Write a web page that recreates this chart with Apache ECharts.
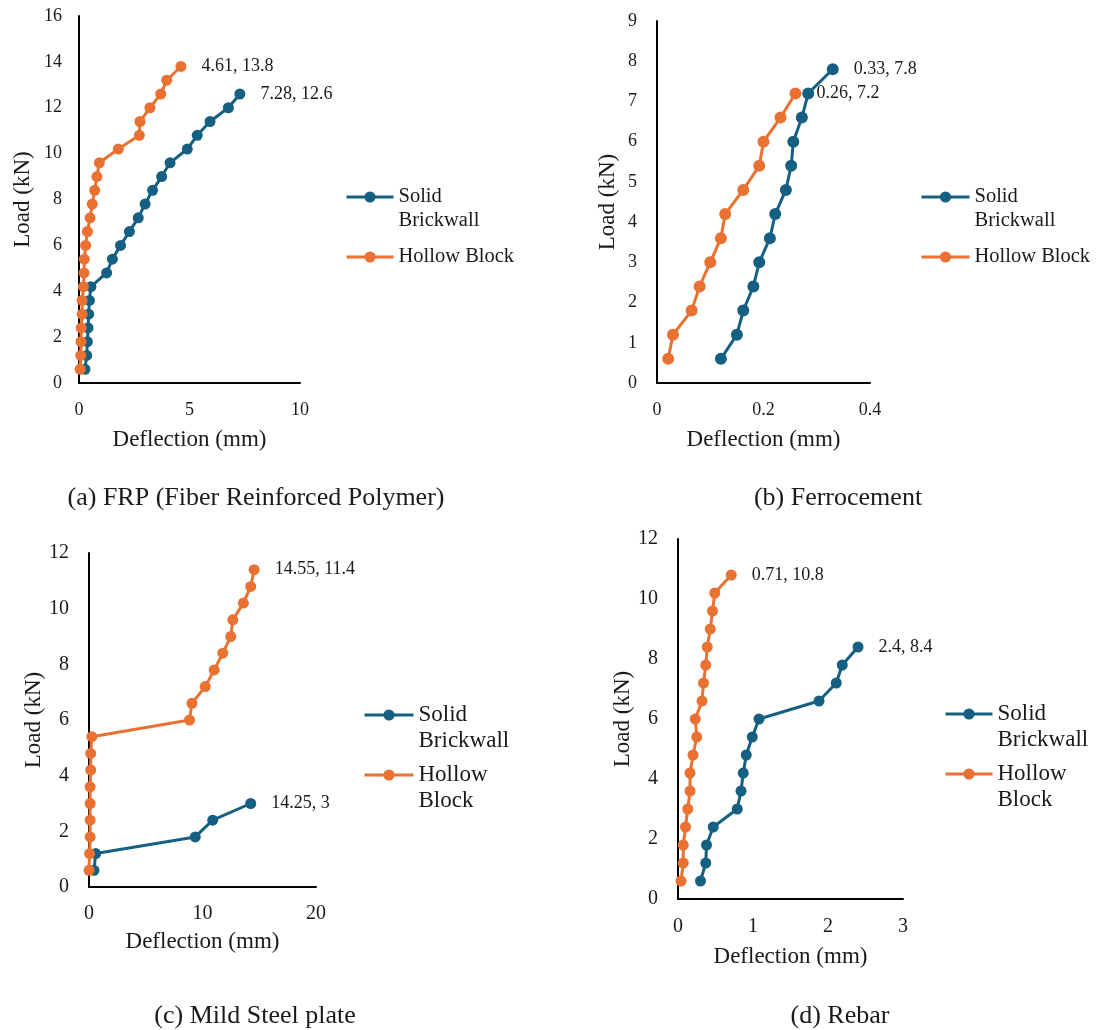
<!DOCTYPE html>
<html>
<head>
<meta charset="utf-8">
<script src="https://cdn.jsdelivr.net/npm/echarts@6/dist/echarts.min.js"></script>
<style>html,body{margin:0;padding:0;background:#fff}#c{width:1098px;height:1030px}</style>
</head>
<body>
<div id="c"></div>
<script>
// ---- Data (Deflection in mm, Load in kN) ----
const seriesNames = ['Solid Brickwall', 'Hollow Block'];
const captions = ['(a) FRP (Fiber Reinforced Polymer)', '(b) Ferrocement', '(c) Mild Steel plate', '(d) Rebar'];

// (a) FRP
const aSolidLoad = [0.6,1.2,1.8,2.4,3.0,3.6,4.2,4.8,5.4,6.0,6.6,7.2,7.8,8.4,9.0,9.6,10.2,10.8,11.4,12.0,12.6];
const aSolidDefl = [0.27,0.35,0.38,0.41,0.44,0.47,0.54,1.25,1.51,1.88,2.28,2.68,2.99,3.33,3.74,4.12,4.9,5.35,5.93,6.76,7.28];
const aHollowLoad = [0.6,1.2,1.8,2.4,3.0,3.6,4.2,4.8,5.4,6.0,6.6,7.2,7.8,8.4,9.0,9.6,10.2,10.8,11.4,12.0,12.6,13.2,13.8];
const aHollowDefl = [0.05,0.08,0.09,0.1,0.14,0.14,0.2,0.23,0.24,0.3,0.38,0.5,0.6,0.71,0.81,0.92,1.78,2.73,2.76,3.21,3.7,3.97,4.61];

// (b) Ferrocement
const bSolidLoad = [0.6,1.2,1.8,2.4,3.0,3.6,4.2,4.8,5.4,6.0,6.6,7.2,7.8];
const bSolidDefl = [0.12,0.15,0.162,0.181,0.192,0.212,0.222,0.242,0.252,0.256,0.272,0.284,0.33];
const bHollowLoad = [0.6,1.2,1.8,2.4,3.0,3.6,4.2,4.8,5.4,6.0,6.6,7.2];
const bHollowDefl = [0.021,0.03,0.065,0.08,0.1,0.12,0.128,0.162,0.192,0.2,0.232,0.26];

// (c) Mild Steel plate
const cSolidLoad = [0.6,1.2,1.8,2.4,3];
const cSolidDefl = [0.44,0.59,9.36,10.9,14.25];
const cHollowLoad = [0.6,1.2,1.8,2.4,3.0,3.6,4.2,4.8,5.4,6.0,6.6,7.2,7.8,8.4,9.0,9.6,10.2,10.8,11.4];
const cHollowDefl = [0.0,0.05,0.1,0.1,0.1,0.1,0.15,0.15,0.25,8.86,9.07,10.24,11.03,11.79,12.49,12.67,13.6,14.25,14.55];

// (d) Rebar
const dSolidLoad = [0.6,1.2,1.8,2.4,3.0,3.6,4.2,4.8,5.4,6.0,6.6,7.2,7.8,8.4];
const dSolidDefl = [0.3,0.37,0.38,0.47,0.79,0.84,0.87,0.91,0.99,1.08,1.88,2.11,2.19,2.4];
const dHollowLoad = [0.6,1.2,1.8,2.4,3.0,3.6,4.2,4.8,5.4,6.0,6.6,7.2,7.8,8.4,9.0,9.6,10.2,10.8];
const dHollowDefl = [0.04,0.07,0.07,0.1,0.13,0.16,0.16,0.2,0.25,0.23,0.32,0.34,0.37,0.39,0.43,0.46,0.49,0.71];

// Axis ranges / ticks
const xMax = [10, 0.4, 20, 3];
const xInterval = [5, 0.2, 10, 1];
const yMax = [16, 9, 12, 12];
const yInterval = [2, 1, 2, 2];

// ---- Styling ----
const FONT = 'Liberation Serif';
const TXT = '#1a1a1a';
const BLUE = '#156082';
const ORANGE = '#E97132';

const grids = [
  {left: 79, top: 16, width: 221, height: 367},
  {left: 657, top: 21, width: 213, height: 362},
  {left: 89, top: 553, width: 227, height: 334},
  {left: 678, top: 539, width: 225, height: 360}
];
const tickFs = [18, 18, 20, 20];
const xMargin = [18, 18, 17, 18];
const yMargin = [17, 20, 20, 20];
const xNameGap = [45, 45, 43, 46];
const yNameGap = [45, 38, 38, 44];

function pairs(defl, load) {
  return defl.map((x, i) => i === defl.length - 1
    ? {value: [x, load[i]], label: {show: true}}
    : [x, load[i]]);
}

const allData = [
  [pairs(aSolidDefl, aSolidLoad), pairs(aHollowDefl, aHollowLoad)],
  [pairs(bSolidDefl, bSolidLoad), pairs(bHollowDefl, bHollowLoad)],
  [pairs(cSolidDefl, cSolidLoad), pairs(cHollowDefl, cHollowLoad)],
  [pairs(dSolidDefl, dSolidLoad), pairs(dHollowDefl, dHollowLoad)]
];

const xAxes = [], yAxes = [], series = [];
for (let g = 0; g < 4; g++) {
  xAxes.push({
    type: 'value', gridIndex: g, min: 0, max: xMax[g], interval: xInterval[g],
    name: 'Deflection (mm)', nameLocation: 'middle', nameGap: xNameGap[g],
    nameTextStyle: {fontFamily: FONT, fontSize: 23, color: TXT},
    axisLine: {show: true, onZero: false, lineStyle: {color: '#000', width: 2}},
    axisTick: {show: false}, splitLine: {show: false},
    axisLabel: {fontFamily: FONT, fontSize: tickFs[g], color: TXT, margin: xMargin[g]}
  });
  yAxes.push({
    type: 'value', gridIndex: g, min: 0, max: yMax[g], interval: yInterval[g],
    name: 'Load (kN)', nameLocation: 'middle', nameGap: yNameGap[g],
    nameTextStyle: {fontFamily: FONT, fontSize: 23, color: TXT},
    axisLine: {show: true, onZero: false, lineStyle: {color: '#000', width: 2}},
    axisTick: {show: false}, splitLine: {show: false},
    axisLabel: {fontFamily: FONT, fontSize: tickFs[g], color: TXT, margin: yMargin[g]}
  });
  [BLUE, ORANGE].forEach((col, k) => {
    series.push({
      name: seriesNames[k], type: 'line', xAxisIndex: g, yAxisIndex: g,
      data: allData[g][k],
      symbol: 'circle', symbolSize: g === 1 ? 12 : 11,
      lineStyle: {color: col, width: 3}, itemStyle: {color: col},
      label: {show: false, position: 'right', distance: 15,
        fontFamily: FONT, fontSize: 18, color: TXT,
        formatter: p => p.value[0] + ', ' + p.value[1]},
      emphasis: {disabled: true}, animation: false
    });
  });
}

// Multi-line legend labels: a leading blank line keeps the first text line level with the icon
function legend(left, top, iw, fs, lh, gap, twoLineHollow) {
  return {
    orient: 'vertical', left: left, top: top, padding: 0,
    itemWidth: iw, itemHeight: 14, itemGap: gap,
    lineStyle: {width: 3},
    textStyle: {fontFamily: FONT, fontSize: fs, lineHeight: lh, color: TXT},
    data: seriesNames,
    formatter: n => n === 'Solid Brickwall' ? ' \nSolid\nBrickwall' : (twoLineHollow ? ' \nHollow\nBlock' : n),
    selectedMode: false
  };
}

const capPos = [[256, 498], [838, 498], [255, 1016], [840, 1016]];

const option = {
  backgroundColor: '#fff',
  animation: false,
  grid: grids,
  xAxis: xAxes,
  yAxis: yAxes,
  series: series,
  legend: [
    legend(345, 161, 47, 20.5, 24, 12, false),
    legend(920, 161, 48, 20.5, 24, 12, false),
    legend(363, 676, 49, 23, 26, -18, true),
    legend(944, 675, 47, 23, 26, -18, true)
  ],
  graphic: captions.map((t, i) => ({
    type: 'text', x: capPos[i][0], y: capPos[i][1],
    style: {text: t, align: 'center', verticalAlign: 'middle',
      fontFamily: FONT, fontSize: 26, fill: TXT}
  }))
};

const chart = echarts.init(document.getElementById('c'), null, {renderer: 'canvas'});
chart.setOption(option);
</script>
</body>
</html>
